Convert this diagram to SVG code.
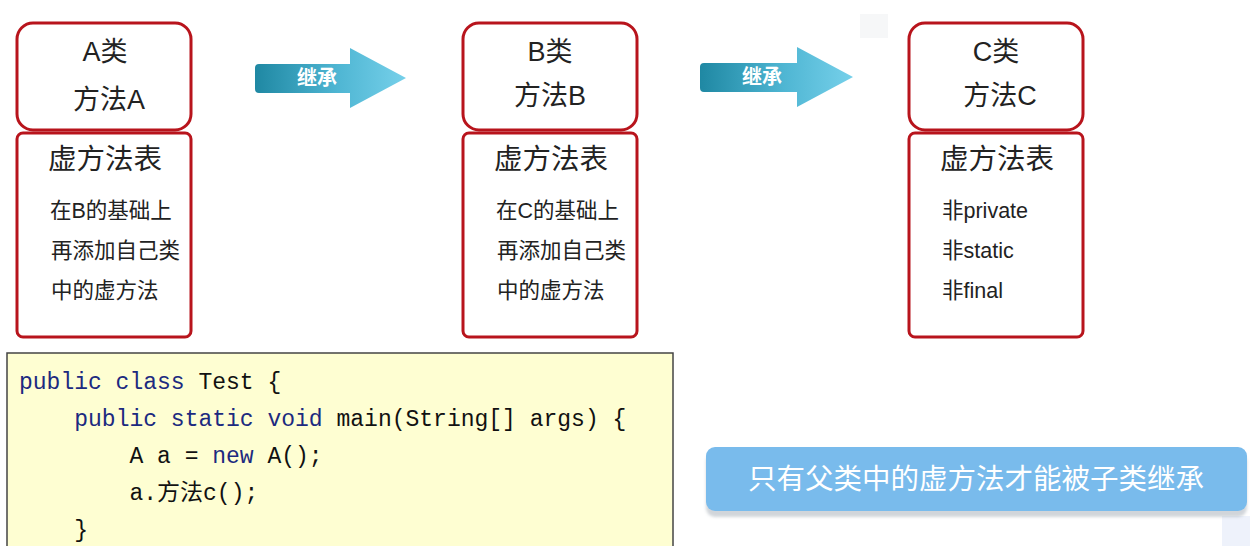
<svg xmlns="http://www.w3.org/2000/svg" width="1250" height="546" viewBox="0 0 1250 546">
<style>
.box{fill:#fff;stroke:#b8141c;stroke-width:3}
.t{font-family:"Liberation Sans","Noto Sans CJK SC",sans-serif;fill:#222}
.h{font-size:27px;text-anchor:middle}
.tt{font-size:28.5px;text-anchor:middle}
.l{font-size:21.5px}
.arrowtxt{font-family:"Noto Sans CJK SC",sans-serif;font-size:20px;font-weight:bold;fill:#fff;text-anchor:middle}
.code{font-family:"Liberation Mono","Noto Sans CJK SC",monospace;font-size:23px;fill:#111}
.kw{fill:#1c2a80}
</style>
<defs>
<linearGradient id="ag" x1="0" y1="0" x2="1" y2="0">
<stop offset="0" stop-color="#1f88a3"/>
<stop offset="0.55" stop-color="#4fb6d3"/>
<stop offset="1" stop-color="#76d0ea"/>
</linearGradient>
<filter id="sh" x="-5%" y="-20%" width="110%" height="150%">
<feDropShadow dx="0" dy="6" stdDeviation="1.5" flood-color="#9aa3ad" flood-opacity="0.45"/>
</filter>
</defs>
<rect x="0" y="0" width="1250" height="546" fill="#fff"/>
<rect x="860" y="14" width="28" height="24" fill="#f6f7f8"/>
<rect x="1222" y="516" width="28" height="30" fill="#eef2fb"/>

<g id="connectors">
<g id="arrow1">
<path d="M259,64 H350 V48 L406,78 L350,108 V93 H259 Q255,93 255,89 V68 Q255,64 259,64 Z" fill="url(#ag)"/>
<text class="arrowtxt" x="317" y="85">继承</text>
</g>
<g id="arrow2">
<path d="M704,63 H797 V47 L853,77 L797,107 V92 H704 Q700,92 700,88 V67 Q700,63 704,63 Z" fill="url(#ag)"/>
<text class="arrowtxt" x="762" y="84">继承</text>
</g>
</g>

<g id="classA">
<rect class="box" x="17" y="23" width="174" height="107" rx="16"/>
<text class="t h" x="105" y="61">A类</text>
<text class="t h" x="109" y="109">方法A</text>
</g>
<g id="vtableA">
<rect class="box" x="17" y="133" width="174" height="204" rx="6"/>
<text class="t tt" x="105" y="169">虚方法表</text>
<text class="t l" x="50" y="218">在B的基础上</text>
<text class="t l" x="51" y="258">再添加自己类</text>
<text class="t l" x="51" y="298">中的虚方法</text>
</g>

<g id="classB">
<rect class="box" x="463" y="23" width="174" height="107" rx="16"/>
<text class="t h" x="550" y="61">B类</text>
<text class="t h" x="550" y="105">方法B</text>
</g>
<g id="vtableB">
<rect class="box" x="463" y="133" width="174" height="204" rx="6"/>
<text class="t tt" x="551" y="169">虚方法表</text>
<text class="t l" x="496" y="218">在C的基础上</text>
<text class="t l" x="497" y="258">再添加自己类</text>
<text class="t l" x="497" y="298">中的虚方法</text>
</g>

<g id="classC">
<rect class="box" x="909" y="23" width="174" height="107" rx="16"/>
<text class="t h" x="996" y="61">C类</text>
<text class="t h" x="1000" y="105">方法C</text>
</g>
<g id="vtableC">
<rect class="box" x="909" y="133" width="174" height="204" rx="6"/>
<text class="t tt" x="997" y="169">虚方法表</text>
<text class="t l" x="942" y="218">非private</text>
<text class="t l" x="942" y="258">非static</text>
<text class="t l" x="942" y="298">非final</text>
</g>

<g id="code">
<rect x="7" y="353" width="666" height="200" fill="#fefed2" stroke="#444" stroke-width="1.5"/>
<text class="code" x="19" y="389"><tspan class="kw">public class</tspan> Test {</text>
<text class="code" x="19" y="426" xml:space="preserve">    <tspan class="kw">public static void</tspan> main(String[] args) {</text>
<text class="code" x="19" y="463" xml:space="preserve">        A a = <tspan class="kw">new</tspan> A();</text>
<text class="code" x="19" y="500" xml:space="preserve">        a.方法c();</text>
<text class="code" x="19" y="537" xml:space="preserve">    }</text>
</g>

<g id="note">
<rect x="706" y="447" width="541" height="64" rx="9" fill="#79bbec" filter="url(#sh)"/>
<text x="976" y="489" font-family="'Noto Sans CJK SC',sans-serif" font-size="28.5" fill="#fff" text-anchor="middle">只有父类中的虚方法才能被子类继承</text>
</g>
</svg>
